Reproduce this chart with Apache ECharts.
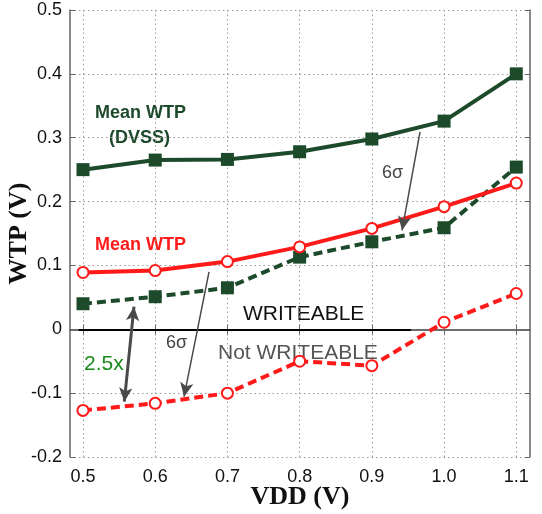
<!DOCTYPE html>
<html><head><meta charset="utf-8">
<script src="https://cdn.jsdelivr.net/npm/echarts@6/dist/echarts.min.js"></script>
<style>html,body{margin:0;padding:0;background:#fff}#c{width:542px;height:514px}</style>
</head><body><div id="c"></div>
<script>
const vdd = [0.5, 0.6, 0.7, 0.8, 0.9, 1.0, 1.1];
const meanDVSS = [0.250, 0.265, 0.266, 0.278, 0.298, 0.326, 0.400];
const sigmaDVSS = [0.040, 0.051, 0.065, 0.113, 0.137, 0.159, 0.254];
const meanWTP = [0.089, 0.092, 0.106, 0.129, 0.158, 0.192, 0.229];
const sigmaWTP = [-0.127, -0.116, -0.100, -0.050, -0.057, 0.011, 0.056];
const xTicks = [0.5, 0.6, 0.7, 0.8, 0.9, 1.0, 1.1];
const yTicks = [-0.2, -0.1, 0, 0.1, 0.2, 0.3, 0.4, 0.5];

const GREEN = '#1c4a2b', RED = '#ff1a1a', ARROW = '#4a4a4a';
const pts = a => vdd.map((x, i) => [x, a[i]]);
const chart = echarts.init(document.getElementById('c'));
const frame = {lineStyle: {color: '#666', width: 1.5}};
const tickIn = {inside: true, length: 5, lineStyle: {color: '#666', width: 1}};
const grid = {show: true, type: [1.5, 3], color: '#9a9a9a', width: 1};

function arrow(p0, p1, both) {
  return {
    type: 'line', xAxisIndex: 0, yAxisIndex: 0, data: [], silent: true,
    markLine: {
      silent: true, animation: false,
      symbol: [both ? 'arrow' : 'none', 'arrow'], symbolSize: [10, 14],
      lineStyle: {color: ARROW, width: both ? 3 : 1.5, type: 'solid'},
      label: {show: false},
      data: [[{coord: p0}, {coord: p1}]]
    }
  };
}

chart.setOption({
  animation: false,
  grid: {left: 70, right: 12, top: 10, bottom: 57, containLabel: false, outerBoundsMode: 'none'},
  xAxis: [{
    type: 'value', min: 0.482, max: 1.119,
    name: 'VDD (V)', nameLocation: 'middle', nameGap: 27, nameMoveOverlap: false,
    nameTextStyle: {fontFamily: 'Liberation Serif', fontWeight: 'bold', fontSize: 26, color: '#111'},
    axisLine: frame, axisTick: Object.assign({customValues: xTicks}, tickIn),
    axisLabel: {customValues: xTicks, margin: 11, fontFamily: 'Liberation Sans', fontSize: 18, color: '#111',
      formatter: v => v.toFixed(1)},
    splitLine: {show: true, lineStyle: grid}
  }, {
    type: 'value', min: 0.482, max: 1.119, position: 'top',
    axisLine: frame, axisTick: Object.assign({customValues: xTicks}, tickIn),
    axisLabel: {show: false}, splitLine: {show: false}
  }],
  yAxis: [{
    type: 'value', min: -0.2, max: 0.5, interval: 0.1,
    name: 'WTP (V)', nameLocation: 'middle', nameGap: 38, nameMoveOverlap: false,
    nameTextStyle: {fontFamily: 'Liberation Serif', fontWeight: 'bold', fontSize: 26, color: '#111'},
    axisLine: {show: true, lineStyle: {color: '#666', width: 1.5}}, axisTick: tickIn,
    axisLabel: {margin: 8, fontFamily: 'Liberation Sans', fontSize: 18, color: '#111',
      formatter: v => Math.abs(v) < 1e-9 ? '0' : v.toFixed(1)},
    splitLine: {show: true, lineStyle: grid}
  }, {
    type: 'value', min: -0.2, max: 0.5, interval: 0.1, position: 'right',
    axisLine: {show: true, lineStyle: {color: '#666', width: 1.5}}, axisTick: tickIn,
    axisLabel: {show: false}, splitLine: {show: false}
  }],
  series: [
    {type: 'line', name: 'zero', data: [], markLine: {silent: true, symbol: 'none', label: {show: false},
      lineStyle: {color: '#000', width: 2, type: 'solid'},
      data: [[{coord: [0.494, 0]}, {coord: [0.954, 0]}]]}},
    {type: 'line', name: 'Mean WTP (DVSS)', data: pts(meanDVSS), symbol: 'rect', symbolSize: 13,
      lineStyle: {color: GREEN, width: 4}, itemStyle: {color: GREEN}},
    {type: 'line', name: 'DVSS 6σ', data: pts(sigmaDVSS), symbol: 'rect', symbolSize: 13,
      lineStyle: {color: GREEN, width: 4, type: [9, 5]}, itemStyle: {color: GREEN}},
    {type: 'line', name: 'Mean WTP', data: pts(meanWTP), symbol: 'emptyCircle', symbolSize: 11,
      lineStyle: {color: RED, width: 4}, itemStyle: {color: RED, borderWidth: 3, borderColor: RED}},
    {type: 'line', name: 'WTP 6σ', data: pts(sigmaWTP), symbol: 'emptyCircle', symbolSize: 11,
      lineStyle: {color: RED, width: 4, type: [9, 5]}, itemStyle: {color: RED, borderWidth: 3, borderColor: RED}},
    arrow([0.9667, 0.309], [0.9418, 0.155], false),
    arrow([0.6745, 0.090], [0.6399, -0.1055], false),
    arrow([0.5706, 0.0354], [0.5572, -0.1133], true)
  ],
  graphic: [
    {type: 'text', left: 95, top: 104, style: {text: 'Mean WTP', fill: GREEN, font: 'bold 18px "Liberation Sans"'}},
    {type: 'text', left: 109, top: 129, style: {text: '(DVSS)', fill: GREEN, font: 'bold 18px "Liberation Sans"'}},
    {type: 'text', left: 95, top: 236, style: {text: 'Mean WTP', fill: RED, font: 'bold 18px "Liberation Sans"'}},
    {type: 'text', left: 382, top: 164, style: {text: '6σ', fill: '#444', font: '18px "Liberation Sans"'}},
    {type: 'text', left: 166, top: 334, style: {text: '6σ', fill: '#444', font: '18px "Liberation Sans"'}},
    {type: 'text', left: 243, top: 304, style: {text: 'WRITEABLE', fill: '#111', font: '21px "Liberation Sans"'}},
    {type: 'text', left: 218, top: 343, style: {text: 'Not WRITEABLE', fill: '#555', font: '21px "Liberation Sans"'}},
    {type: 'text', left: 84, top: 354, style: {text: '2.5x', fill: '#1a8a1a', font: '21px "Liberation Sans"'}}
  ]
});
</script></body></html>
